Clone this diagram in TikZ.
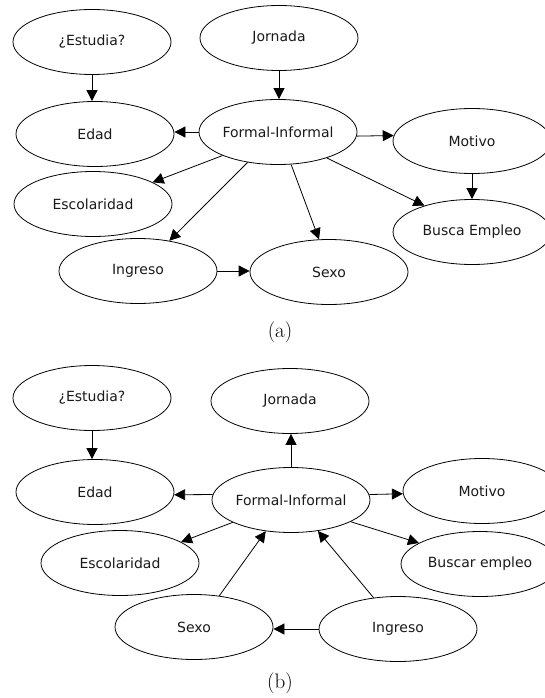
\documentclass[tikz,border=0pt]{standalone}
\usepackage{fontspec}
\newfontfamily\nodefont{DejaVu Sans}
\usetikzlibrary{shapes.geometric,arrows.meta}
\begin{document}
\begin{tikzpicture}[x=1pt,y=-1pt,
  ell/.style={ellipse, draw=black, line width=0.8pt, minimum width=158pt, minimum height=65pt, inner sep=0pt, font=\nodefont\fontsize{14}{16}\selectfont, text=black!90},
  arr/.style={line width=0.8pt, -{Triangle[length=11pt,width=11pt]}},
  captext/.style={font=\fontsize{21}{24}\selectfont, inner sep=0pt}]
\useasboundingbox (0,0) rectangle (545,698);
\clip (0,0) rectangle (545,698);
% ---------- (a) ----------
\node[ell] (est) at (92,42) {¿Estudia?};
\node[ell] (jor) at (279,38) {Jornada};
\node[ell] (eda) at (95,134) {Edad};
\node[ell] (fi) at (278,132) {Formal-Informal};
\node[ell] (mot) at (472,141) {Motivo};
\node[ell] (esc) at (93,204) {Escolaridad};
\node[ell] (bus) at (472,232) {Busca Empleo};
\node[ell] (ing) at (138,271) {Ingreso};
\node[ell] (sex) at (329,272) {Sexo};
\node[captext] (capa) at (280,332.5) {(a)};
\draw[arr] (est.south) -- (est.south |- eda.north);
\draw[arr] (jor.south) -- (jor.south |- fi.north);
\draw[arr] (fi.west) -- (fi.west -| eda.east);
\draw[arr] (fi.-3) -- (mot.176);
\draw[arr] (fi.203) -- (esc.20);
\draw[arr] (fi.225) -- (ing.44);
\draw[arr] (fi.-68) -- (sex.107);
\draw[arr] (fi.-28) -- (bus.151);
\draw[arr] (mot.south) -- (bus.north);
\draw[arr] (ing.east) -- (ing.east -| sex.west);
% ---------- (b) ----------
\node[ell] (est2) at (92,398) {¿Estudia?};
\node[ell] (jor2) at (290,401) {Jornada};
\node[ell] (eda2) at (95,492) {Edad};
\node[ell] (fi2) at (291,500) {Formal-Informal};
\node[ell] (mot2) at (482,491) {Motivo};
\node[ell] (esc2) at (120,563) {Escolaridad};
\node[ell] (bus2) at (480,564) {Buscar empleo};
\node[ell] (sex2) at (194,627) {Sexo};
\node[ell] (ing2) at (398,629) {Ingreso};
\node[captext] (capb) at (280,683.5) {(b)};
\draw[arr] (est2.south) -- (est2.south |- eda2.north);
\draw[arr] (fi2.north) -- (fi2.north |- jor2.south);
\draw[arr] (fi2.176) -- (eda2.-2);
\draw[arr] (fi2.4) -- (mot2.182);
\draw[arr] (fi2.201) -- (esc2.19);
\draw[arr] (fi2.-20) -- (bus2.161);
\draw[arr] (sex2.51) -- (fi2.231);
\draw[arr] (ing2.128) -- (fi2.-49);
\draw[arr] (ing2.west) -- (ing2.west -| sex2.east);
\end{tikzpicture}
\end{document}
